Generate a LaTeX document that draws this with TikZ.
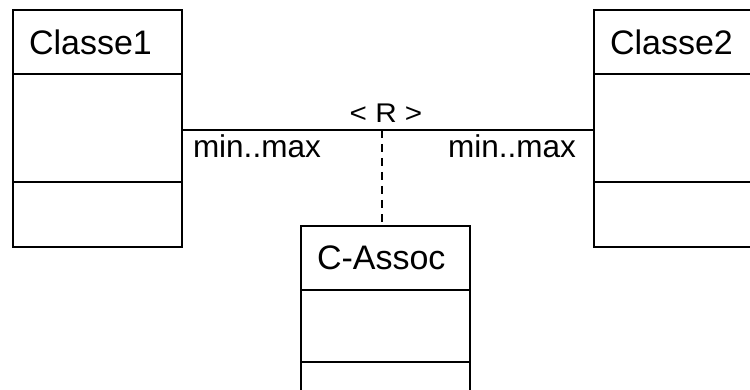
\documentclass[tikz,border=0pt]{standalone}
\usepackage{fontspec}
\setmainfont{Liberation Sans}
\usetikzlibrary{positioning,calc}

\begin{document}
\begin{tikzpicture}[
	x=0.5pt, y=-0.5pt,
	node distance=0pt,
	line width=1pt,
	header/.style={rectangle, draw=black, outer sep=0pt, inner xsep=8pt,
		text width=68.5pt, align=left, minimum height=32pt,
		font=\fontsize{17}{20}\selectfont},
	part/.style={rectangle, draw=black, outer sep=0pt,
		minimum width=84.5pt, minimum height=#1},
	mult/.style={font=\fontsize{15.75}{18}\selectfont, inner sep=2pt},
	role/.style={font=\fontsize{13.5}{16}\selectfont, inner sep=3pt},
	linkdash/.style={dash pattern=on 4pt off 3pt}
	]
	\useasboundingbox (0,0) rectangle (750,390);
	\clip (0,0) rectangle (750,390);
	\node[header, anchor=north west] (c1) at (13,10) {Classe1};
	\node[part=54pt, below=of c1]    (c1a) {};
	\node[part=32.5pt, below=of c1a] (c1m) {};
	\node[header, anchor=north west] (c2) at (594,10) {Classe2};
	\node[part=54pt, below=of c2]    (c2a) {};
	\node[part=32.5pt, below=of c2a] (c2m) {};
	\node[header, anchor=north west] (ca) at (301,226) {C-Assoc};
	\node[part=36pt, below=of ca]    (caa) {};
	\node[part=32.5pt, below=of caa] (cam) {};
	\draw ([yshift=-1pt]c1a.east) --
		node[role, above, xshift=-1pt] {\scalebox{1.1}[1]{< R >}}
		node[mult, pos=0, below right, xshift=3pt] {min..max}
		node[mult, pos=1, below left, xshift=-6.5pt] {min..max}
		([yshift=-1pt]c2a.west);
	\coordinate (m) at ($([yshift=-1pt]c1a.east)!.485!([yshift=-1pt]c2a.west)$);
	\draw[linkdash] (m) -- (m |- ca.north);
\end{tikzpicture}
\end{document}
